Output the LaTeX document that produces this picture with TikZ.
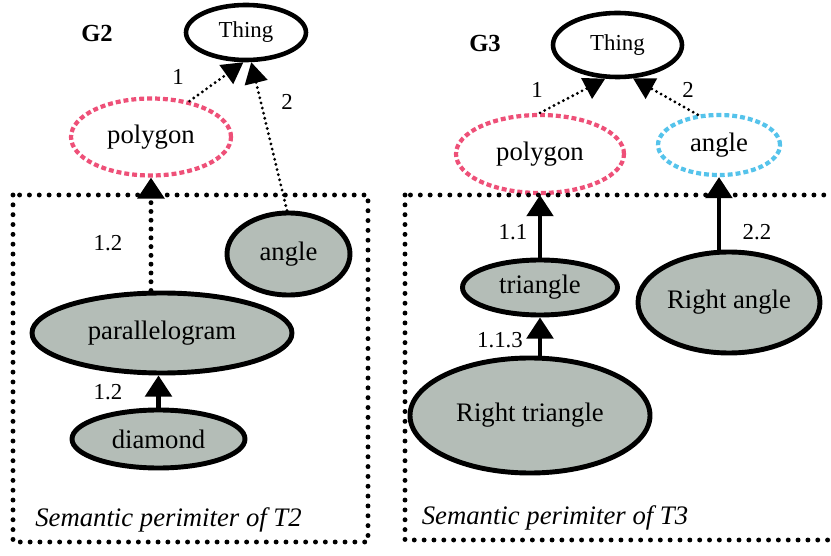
\documentclass[tikz,border=0pt]{standalone}
\usepackage{fontspec}
\setmainfont{Liberation Serif}
\usepackage{tikz}
\usetikzlibrary{shapes,arrows.meta}

\definecolor{polypink}{RGB}{238,80,120}
\definecolor{anglecyan}{RGB}{85,195,235}
\definecolor{conceptgrey}{RGB}{180,189,183}

\begin{document}
\begin{tikzpicture}
\tikzstyle{root}=[ellipse, line width=2.6pt, draw=black, inner sep=0pt, font=\fontsize{13}{15}\selectfont]
\tikzstyle{cls}=[ellipse, line width=2.4pt, dash pattern=on 2.8pt off 1.7pt, inner sep=0pt, font=\fontsize{15.2}{17}\selectfont]
\tikzstyle{sub}=[ellipse, line width=2.8pt, draw=black, fill=conceptgrey, inner sep=0pt, font=\fontsize{15.2}{17}\selectfont]
\tikzstyle{dotlink}=[-{Triangle[width=13pt,length=12pt]}, line width=1.8pt, dash pattern=on 0pt off 3pt, line cap=round]
\tikzstyle{bigdotlink}=[-{Triangle[width=15pt,length=12pt]}, line width=2.8pt, dash pattern=on 0pt off 5pt, line cap=round]
\tikzstyle{isa}=[-{Triangle[width=15pt,length=12pt]}, line width=2.4pt]
\tikzstyle{perim}=[line width=2.8pt, dash pattern=on 0pt off 5.6pt, line cap=round]
\tikzstyle{num}=[font=\fontsize{13}{15}\selectfont]
\tikzstyle{caption}=[font=\fontsize{15.2}{17}\selectfont\itshape]

	\clip (0,0) rectangle (16.62,-11.12);

	% G2
	\node[font=\fontsize{14}{17}\selectfont\bfseries] (g_2) at (1.94,-0.66) {G2};
	\node[root, minimum width=2.4cm, minimum height=1.1cm] (thing_2) at (4.92,-0.65) {Thing};
	\node[cls, draw=polypink, minimum width=3.2cm, minimum height=1.54cm] (poly_2) at (3.02,-2.74) {polygon};
	\node[sub, minimum width=2.46cm, minimum height=1.64cm] (angle_2) at (5.77,-5.08) {angle};
	\node[sub, minimum width=5.2cm, minimum height=1.6cm] (para_2) at (3.24,-6.66) {parallelogram};
	\node[sub, minimum width=3.46cm, minimum height=1.16cm] (diam_2) at (3.17,-8.78) {diamond};

	\draw[perim] (0.26,-3.9) rectangle (7.36,-10.84);
	\node[caption] (t_2) at (3.37,-10.4) {Semantic perimiter of T2};

	\node[num] (l_21) at (3.56,-1.54) {1};
	\node[num] (l_22) at (5.74,-2.04) {2};
	\node[num] (l_212) at (2.16,-4.86) {1.2};
	\node[num] (l_2120) at (2.16,-7.84) {1.2};

	\path
	 (poly_2.43) edge[dotlink] (thing_2.265)
	 (angle_2.92) edge[dotlink] (thing_2.280)
	 (para_2.north -| poly_2.south) edge[bigdotlink] (poly_2.south)
	 (diam_2.north) edge[isa] (diam_2.north |- para_2.south);

	% G3
	\node[font=\fontsize{14}{17}\selectfont\bfseries] (g_3) at (9.7,-0.87) {G3};
	\node[root, minimum width=2.58cm, minimum height=1.28cm] (thing_3) at (12.35,-0.9) {Thing};
	\node[cls, draw=polypink, minimum width=3.36cm, minimum height=1.56cm] (poly_3) at (10.8,-3.08) {polygon};
	\node[cls, draw=anglecyan, minimum width=2.44cm, minimum height=1.2cm] (angle_3) at (14.38,-2.9) {angle};
	\node[sub, minimum width=3.1cm, minimum height=1.1cm] (tri_3) at (10.8,-5.75) {triangle};
	\node[sub, minimum width=3.64cm, minimum height=2.02cm] (rangle_3) at (14.58,-6.05) {Right angle};
	\node[sub, minimum width=4.8cm, minimum height=2.3cm] (rtri_3) at (10.6,-8.31) {Right triangle};

	\draw[perim] (8.1,-3.9) rectangle (17.0,-10.8);
	\node[caption] (t_3) at (11.1,-10.36) {Semantic perimiter of T3};

	\node[num] (l_31) at (10.74,-1.8) {1};
	\node[num] (l_32) at (13.76,-1.8) {2};
	\node[num] (l_311) at (10.26,-4.64) {1.1};
	\node[num] (l_322) at (15.14,-4.64) {2.2};
	\node[num] (l_3113) at (10.0,-6.8) {1.1.3};

	\path
	 (poly_3.north) edge[dotlink] (thing_3.250)
	 (angle_3.125) edge[dotlink] (thing_3.295)
	 (tri_3.north) edge[isa] (tri_3.north |- poly_3.south)
	 (rangle_3.north -| angle_3.south) edge[isa] (angle_3.south)
	 (rtri_3.north -| tri_3.south) edge[isa] (tri_3.south);

\end{tikzpicture}
\end{document}
